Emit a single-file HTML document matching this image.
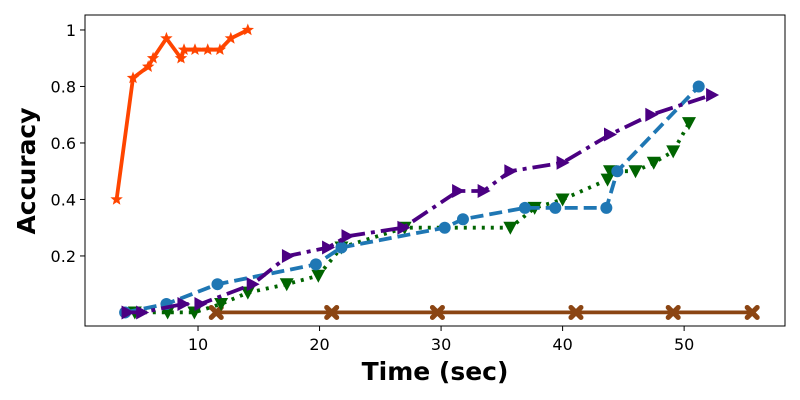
<!DOCTYPE html>
<html><head><meta charset="utf-8"><style>
html,body{margin:0;padding:0;background:#fff;}
svg{display:block;font-family:"DejaVu Sans","Liberation Sans",sans-serif;}
</style></head><body>
<svg id="chart" width="800" height="400"></svg>
<script>
const xTicks=[10,20,30,40,50];
const yTicks=[0.2,0.4,0.6,0.8,1];
const yTickLabels=["0.2","0.4","0.6","0.8","1"];
const orangeX=[3.3,4.65,5.9,6.3,7.4,8.6,8.85,9.75,10.8,11.8,12.7,14.1];
const orangeY=[0.40,0.83,0.87,0.90,0.97,0.90,0.93,0.93,0.93,0.93,0.97,1.0];
const blueX=[4.0,7.4,11.6,19.7,21.8,30.3,31.8,36.9,39.4,43.6,44.5,51.2];
const blueY=[0,0.03,0.10,0.17,0.23,0.30,0.33,0.37,0.37,0.37,0.50,0.80];
const greenX=[4.8,7.5,9.7,11.9,14.1,17.3,19.9,21.8,27.0,35.7,37.7,40.0,43.7,43.9,46.0,47.5,49.1,50.4];
const greenY=[0,0,0,0.03,0.07,0.10,0.13,0.23,0.30,0.30,0.37,0.40,0.47,0.50,0.50,0.53,0.57,0.67];
const purpleX=[4.2,5.4,8.8,10.2,14.5,17.4,20.7,22.3,26.9,31.4,33.5,35.7,40.0,43.9,47.3,52.3];
const purpleY=[0,0,0.03,0.03,0.10,0.20,0.23,0.27,0.30,0.43,0.43,0.50,0.53,0.63,0.70,0.77];
const brownX=[11.5,21.0,29.7,41.1,49.1,55.6];
const brownY=[0,0,0,0,0,0];

const L=85,R=785,T=15,B=326;
const xMin=0.7,xMax=58.3,yMin=-0.048,yMax=1.053;
const sx=v=>L+(v-xMin)/(xMax-xMin)*(R-L);
const sy=v=>B-(v-yMin)/(yMax-yMin)*(B-T);
const NS="http://www.w3.org/2000/svg";
const svg=document.getElementById('chart');
function mk(tag,attrs,parent){const e=document.createElementNS(NS,tag);for(const k in attrs)e.setAttribute(k,attrs[k]);(parent||svg).appendChild(e);return e;}

const frame=mk('rect',{x:L,y:T,width:R-L,height:B-T,fill:'#fff',stroke:'#000','stroke-width':1});



xTicks.forEach(t=>{
  const ln=mk('line',{x1:sx(t),x2:sx(t),y1:B,y2:B+5,stroke:'#000'});
  
  
  const tx=mk('text',{x:sx(t),y:B+24,'text-anchor':'middle','font-size':16});
  tx.textContent=t;
  
  
});
yTicks.forEach((t,i)=>{
  const ln=mk('line',{x1:L-5,x2:L,y1:sy(t),y2:sy(t),stroke:'#000'});
  
  
  const tx=mk('text',{x:L-9,y:sy(t)+6,'text-anchor':'end','font-size':16});
  tx.textContent=yTickLabels[i];
  
  
});
const xl=mk('text',{x:435,y:380,'text-anchor':'middle','font-size':25,'font-weight':'bold'});
xl.textContent='Time (sec)';


const yl=mk('text',{x:0,y:0,'text-anchor':'middle','font-size':25,'font-weight':'bold',transform:`translate(35,171) rotate(-90)`});
yl.textContent='Accuracy';



function marker(type,x,y,color,g){
  let e;
  if(type==='circle') e=mk('circle',{cx:x,cy:y,r:6,fill:color},g);
  else if(type==='tri-down') e=mk('polygon',{points:`${x-7},${y-6} ${x+7},${y-6} ${x},${y+7}`,fill:color},g);
  else if(type==='tri-right') e=mk('polygon',{points:`${x-6},${y-7} ${x-6},${y+7} ${x+7},${y}`,fill:color},g);
  else if(type==='x') e=mk('path',{d:`M${x-5},${y-5}L${x+5},${y+5}M${x+5},${y-5}L${x-5},${y+5}`,stroke:color,'stroke-width':5,'stroke-linecap':'round',fill:'none'},g);
  else if(type==='star'){
    let p=[];for(let i=0;i<10;i++){const r=i%2?2.8:6.5;const a=-Math.PI/2+i*Math.PI/5;p.push((x+r*Math.cos(a)).toFixed(1)+','+(y+r*Math.sin(a)).toFixed(1));}
    e=mk('polygon',{points:p.join(' '),fill:color},g);
  }
  return e;
}
function series(name,xs,ys,color,dash,type){
  const g=mk('g',{});
  
  
  const pts=xs.map((x,i)=>sx(x).toFixed(1)+','+sy(ys[i]).toFixed(1)).join(' ');
  const pl=mk('polyline',{points:pts,fill:'none',stroke:color,'stroke-width':3.8,'stroke-dasharray':dash},g);
  
  
  xs.forEach((x,i)=>{
    const m=marker(type,sx(x),sy(ys[i]),color,g);
    
    
  });
}
series('brown-series',brownX,brownY,'#8b4513','none','x');
series('green-series',greenX,greenY,'#006400','3 6','tri-down');
series('blue-series',blueX,blueY,'#1f77b4','13 6','circle');
series('purple-series',purpleX,purpleY,'#4b0082','18 6 4 6','tri-right');
series('orange-series',orangeX,orangeY,'#ff4500','none','star');
</script>
</body></html>
